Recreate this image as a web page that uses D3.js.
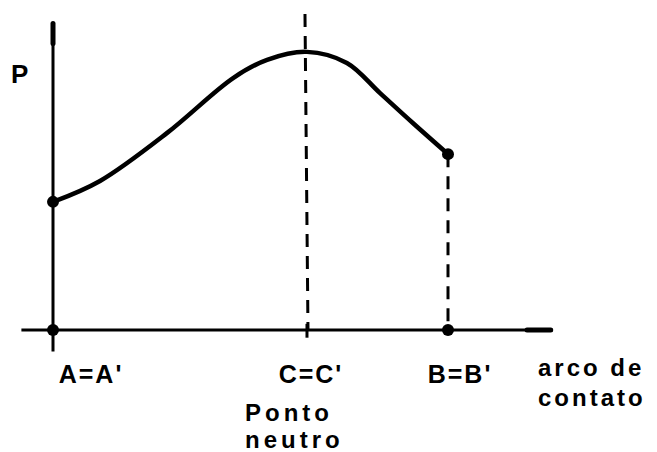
<!DOCTYPE html>
<html>
  <head>
    <meta charset="utf-8">
    <title>arco de contato</title>
    <style>
      body { margin: 0; background: #fff; }
      text { font-family: "Liberation Sans", Arial, sans-serif; font-weight: bold; fill: #000; }
    </style>
  </head>
  <body>
    <script src="https://cdn.jsdelivr.net/npm/d3@7"></script>
    <script type="text/javascript">
      // pressure curve along the contact arc (arbitrary units)
      var arcPos   = [0, 1.19, 2.89, 4.56, 5.42, 6.43, 7.44, 8.28, 9.11, 10];
      var pressure = [4.16, 4.84, 6.40, 8.18, 8.77, 9.03, 8.67, 7.69, 6.72, 5.71];

      // named points on the arc
      var pointNames = ["A=A'", "C=C'", "B=B'"];
      var pointArc   = [0, 6.43, 10];

      var width = 657;
      var height = 452;

      var svg = d3.select("body")
                  .append("svg")
                  .attr("width", width)
                  .attr("height", height);

      var xScale = d3.scaleLinear()
                     .domain([0, 10])
                     .range([53, 448]);

      var yScale = d3.scaleLinear()
                     .domain([0, 10])
                     .range([330, 22]);

      var data = arcPos.map(function(d, i) { return {x: d, y: pressure[i]}; });

      // axes
      svg.append("line")
         .attr("x1", xScale(-0.8)).attr("x2", xScale(12.65))
         .attr("y1", yScale(0)).attr("y2", yScale(0))
         .attr("stroke", "#000").attr("stroke-width", 3);
      svg.append("line")
         .attr("x1", xScale(12.0)).attr("x2", xScale(12.6))
         .attr("y1", yScale(0)).attr("y2", yScale(0))
         .attr("stroke", "#000").attr("stroke-width", 5)
         .attr("stroke-linecap", "round");

      svg.append("line")
         .attr("x1", xScale(0)).attr("x2", xScale(0))
         .attr("y1", yScale(-0.7)).attr("y2", yScale(10))
         .attr("stroke", "#000").attr("stroke-width", 3);
      svg.append("line")
         .attr("x1", xScale(0)).attr("x2", xScale(0))
         .attr("y1", yScale(9.3)).attr("y2", yScale(9.95))
         .attr("stroke", "#000").attr("stroke-width", 5)
         .attr("stroke-linecap", "round");

      // tick at C
      svg.append("line")
         .attr("x1", xScale(pointArc[1])).attr("x2", xScale(pointArc[1]))
         .attr("y1", yScale(0.2)).attr("y2", yScale(-0.25))
         .attr("stroke", "#000").attr("stroke-width", 3);

      // dashed verticals at C and B
      svg.append("line")
         .attr("x1", xScale(pointArc[1]) - 2).attr("x2", xScale(pointArc[1]) + 1)
         .attr("y1", 14).attr("y2", yScale(0))
         .attr("stroke", "#000").attr("stroke-width", 3)
         .attr("stroke-dasharray", "13,9");
      svg.append("line")
         .attr("x1", xScale(pointArc[2])).attr("x2", xScale(pointArc[2]))
         .attr("y1", yScale(pressure[pressure.length - 1])).attr("y2", yScale(0))
         .attr("stroke", "#000").attr("stroke-width", 3)
         .attr("stroke-dasharray", "13,9");

      // pressure curve
      var line = d3.line()
                   .x(function(d) { return xScale(d.x); })
                   .y(function(d) { return yScale(d.y); })
                   .curve(d3.curveCatmullRom.alpha(0.5));

      svg.append("path")
         .datum(data)
         .attr("d", line)
         .attr("fill", "none")
         .attr("stroke", "#000")
         .attr("stroke-width", 4.5)
         .attr("stroke-linecap", "round");

      // end dots of the curve
      var ends = [data[0], data[data.length - 1]];
      svg.selectAll("circle.end")
         .data(ends)
         .enter().append("circle")
         .attr("class", "end")
         .attr("cx", function(d) { return xScale(d.x); })
         .attr("cy", function(d) { return yScale(d.y); })
         .attr("r", 6);

      // dots on the arc axis at A and B
      svg.selectAll("circle.base")
         .data([pointArc[0], pointArc[2]])
         .enter().append("circle")
         .attr("class", "base")
         .attr("cx", function(d) { return xScale(d); })
         .attr("cy", yScale(0))
         .attr("r", 6);

      // point labels
      var labelDx = [38, 4, 12];
      svg.selectAll("text.pt")
         .data(pointNames)
         .enter().append("text")
         .attr("class", "pt")
         .attr("x", function(d, i) { return xScale(pointArc[i]) + labelDx[i]; })
         .attr("y", 383)
         .attr("text-anchor", "middle")
         .attr("font-size", 25)
         .attr("letter-spacing", 2)
         .text(function(d) { return d; });

      svg.append("text")
         .attr("x", 245).attr("y", 421)
         .attr("font-size", 24).attr("letter-spacing", 4)
         .text("Ponto");
      svg.append("text")
         .attr("x", 245).attr("y", 448)
         .attr("font-size", 24).attr("letter-spacing", 4)
         .text("neutro");

      svg.append("text")
         .attr("x", 538).attr("y", 376)
         .attr("font-size", 24).attr("letter-spacing", 3)
         .text("arco de");
      svg.append("text")
         .attr("x", 538).attr("y", 406)
         .attr("font-size", 24).attr("letter-spacing", 3)
         .text("contato");

      svg.append("text")
         .attr("x", 11).attr("y", 83)
         .attr("font-size", 26)
         .text("P");
    </script>
  </body>
</html>
